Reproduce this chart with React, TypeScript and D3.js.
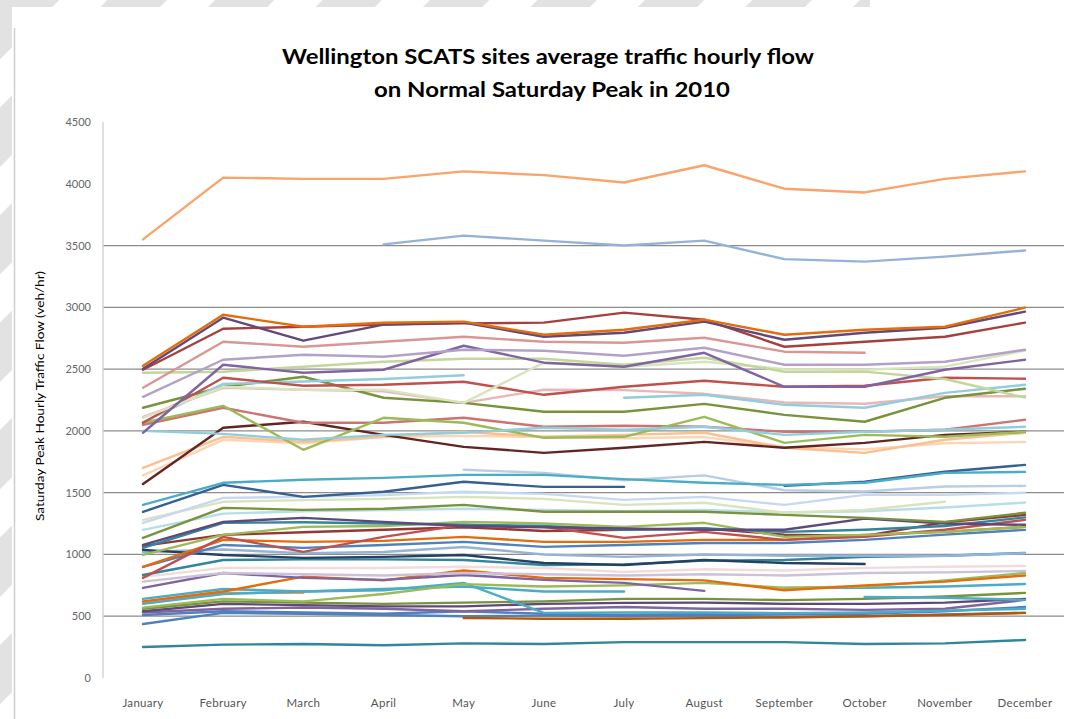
import React from 'react';
import * as d3 from 'd3';

const width = 1077;
const height = 719;

const months = ['January', 'February', 'March', 'April', 'May', 'June', 'July', 'August', 'September', 'October', 'November', 'December'];
const yTicks = [0, 500, 1000, 1500, 2000, 2500, 3000, 3500, 4000, 4500];
const gridTicks = [500, 1000, 1500, 2000, 2500, 3000, 3500];

type V = number | null;

// one array per site (veh/hr)
const site01: V[] = [3550, 4050, 4040, 4040, 4100, 4070, 4010, 4150, 3960, 3930, 4040, 4100];
const site02: V[] = [null, null, null, 3510, 3580, 3540, 3500, 3540, 3390, 3370, 3410, 3460];
const site03: V[] = [2527, 2940, 2843, 2875, 2884, 2778, 2819, 2900, 2778, 2819, 2843, 2997];
const site04: V[] = [2503, 2916, 2730, 2860, 2876, 2762, 2794, 2884, 2738, 2794, 2835, 2965];
const site05: V[] = [2495, 2827, 2843, 2860, 2870, 2876, 2957, 2900, 2681, 2722, 2762, 2876];
const site06: V[] = [2349, 2722, 2681, 2722, 2762, 2722, 2713, 2754, 2641, 2632, null, null];
const site07: V[] = [2276, 2576, 2616, 2600, 2657, 2649, 2608, 2673, 2535, 2535, 2560, 2657];
const site08: V[] = [1985, 2535, 2470, 2495, 2689, 2552, 2519, 2632, 2357, 2357, 2495, 2576];
const site09: V[] = [2470, 2479, 2519, 2560, 2584, 2584, 2535, 2592, 2479, 2480, 2420, 2270];
const site10: V[] = [2106, 2357, 2333, 2333, 2227, 2552, 2519, 2560, 2500, 2495, 2520, 2650];
const site11: V[] = [2066, 2430, 2365, 2373, 2398, 2292, 2357, 2406, 2357, 2365, 2430, 2422];
const site12: V[] = [2070, 2380, 2400, 2420, 2450, null, 2268, 2292, 2211, 2187, 2308, 2373];
const site13: V[] = [2000, 1976, 1928, 1968, 1985, 2025, 2009, 2033, 1968, 1993, 2009, 2033];
const site14: V[] = [2187, 2357, 2438, 2268, 2227, 2155, 2155, 2219, 2130, 2074, 2268, 2341];
const site15: V[] = [2114, 2349, 2333, 2320, 2227, 2333, 2330, 2300, 2230, 2220, 2280, 2280];
const site16: V[] = [2066, 2203, 1847, 2106, 2066, 1944, 1952, 2114, 1903, 1968, 1952, 1993];
const site17: V[] = [2050, 2187, 2066, 2066, 2106, 2033, 2041, 2033, 1993, 1993, 2009, 2090];
const site18: V[] = [1570, 2025, 2074, 1968, 1871, 1822, 1863, 1911, 1863, 1903, 1968, 1993];
const site19: V[] = [1700, 1952, 1911, 1952, 1993, 1952, 1968, 1985, 1863, 1822, 1928, 1985];
const site20: V[] = [1640, 1928, 1900, 1950, 1960, 1950, 1940, 1950, 1870, 1850, 1900, 1910];
const site21: V[] = [1401, 1580, 1604, 1620, 1644, 1644, 1610, 1580, 1563, 1580, 1660, 1668];
const site22: V[] = [1345, 1563, 1466, 1507, 1588, 1547, 1547, null, 1555, 1588, 1669, 1725];
const site23: V[] = [null, null, null, null, 1685, 1660, 1600, 1640, 1520, 1510, 1550, 1555];
const site24: V[] = [1256, 1458, 1466, 1480, 1507, 1490, 1442, 1466, 1401, 1482, 1482, 1499];
const site25: V[] = [1280, 1426, 1440, 1450, 1466, 1450, 1401, 1418, 1337, 1361, 1426, null];
const site26: V[] = [1134, 1377, 1361, 1370, 1401, 1345, 1345, 1345, 1320, 1296, 1264, 1337];
const site27: V[] = [1077, 1264, 1296, 1264, 1230, 1220, 1210, 1200, 1200, 1290, 1250, 1240];
const site28: V[] = [1053, 1256, 1260, 1250, 1240, 1230, 1200, 1210, 1183, 1200, 1230, 1300];
const site29: V[] = [996, 1158, 1223, 1230, 1264, 1250, 1223, 1256, 1142, 1158, 1183, 1223];
const site30: V[] = [810, 1142, 1021, 1142, 1239, 1223, 1134, 1183, 1118, 1142, 1200, 1280];
const site31: V[] = [1069, 1158, 1180, 1200, 1220, 1190, 1200, 1210, 1160, 1150, 1260, 1320];
const site32: V[] = [899, 1118, 1102, 1110, 1142, 1102, 1102, 1118, 1118, 1158, 1183, 1223];
const site33: V[] = [900, 1077, 1053, 1077, 1102, 1061, 1077, 1093, 1093, 1118, 1160, 1199];
const site34: V[] = [1037, 996, 972, 980, 996, 931, 915, 955, 931, 923, null, null];
const site35: V[] = [1020, 1040, 1010, 1020, 1060, 1000, 980, 1000, 990, 990, 990, 1010];
const site36: V[] = [834, 955, 960, 960, 955, 915, 920, 950, 955, 980, 990, 1012];
const site37: V[] = [818, 891, 890, 890, 900, 890, 858, 880, 870, 891, 900, 907];
const site38: V[] = [780, 850, 840, 830, 850, 840, 830, 840, 830, 850, 855, 866];
const site39: V[] = [729, 850, 810, 794, 834, 794, 770, 705, null, null, null, null];
const site40: V[] = [620, 700, 820, 790, 870, 810, 800, 790, 710, 750, 780, 830];
const site41: V[] = [570, 640, 620, 680, 760, 740, 750, 770, 730, 740, 790, 850];
const site42: V[] = [640, 720, 700, 720, 740, 700, 700, null, null, null, null, null];
const site43: V[] = [600, 680, 700, 710, 770, 527, 530, 530, 525, 530, 545, 560];
const site44: V[] = [608, 689, 689, null, null, null, null, null, null, null, null, null];
const site45: V[] = [null, null, null, null, null, null, null, null, null, 656, 650, 632];
const site46: V[] = [null, null, null, null, null, null, null, null, 729, 730, 740, 761];
const site47: V[] = [560, 620, 610, 600, 610, 620, 640, 640, 630, 640, 660, 689];
const site48: V[] = [540, 600, 590, 580, 580, 600, 608, 610, 600, 600, 610, 640];
const site49: V[] = [530, 560, 570, 560, 540, 560, 575, 560, 560, 551, 560, 632];
const site50: V[] = [510, 540, 530, 520, 540, 520, 510, 520, 515, 520, 540, 575];
const site51: V[] = [null, null, null, null, 486, 480, 480, 485, 490, 500, 510, 527];
const site52: V[] = [437, 527, 520, 510, 500, 505, 500, 505, 495, 500, 515, 527];
const site53: V[] = [251, 270, 275, 265, 280, 275, 290, 290, 290, 275, 280, 308];
const site54: V[] = [1199, 1330, 1350, 1360, 1370, 1360, 1350, 1360, 1340, 1350, 1380, 1420];

const siteColors = [
  '#f9a46b', '#95b3d7', '#e46c0a', '#604a7b', '#a5403d', '#d99694', '#b3a2c7', '#8064a2',
  '#c3d69b', '#d7e4bd', '#c0504d', '#93cddd', '#92cddc', '#77933c', '#e6b9b8', '#9bbb59',
  '#cd7371', '#632523', '#fac090', '#fcd5b5', '#4bacc6', '#376092', '#b9cde5', '#c6d9f1',
  '#d7e4bd', '#77933c', '#5f497a', '#31859c', '#9bbb59', '#c0504d', '#953735', '#e46c0a',
  '#4f81bd', '#254061', '#95b3d7', '#31859c', '#f2dcdb', '#ccc1da', '#8064a2', '#e46c0a',
  '#9bbb59', '#4bacc6', '#4bacc6', '#f79646', '#4bacc6', '#4bacc6', '#77933c', '#5f497a',
  '#8064a2', '#4f81bd', '#b65708', '#4f81bd', '#31859c', '#b7dee8',
];

const sites = [
  site01, site02, site03, site04, site05, site06, site07, site08, site09, site10,
  site11, site12, site13, site14, site15, site16, site17, site18, site19, site20,
  site21, site22, site23, site24, site25, site26, site27, site28, site29, site30,
  site31, site32, site33, site34, site35, site36, site37, site38, site39, site40,
  site41, site42, site43, site44, site45, site46, site47, site48, site49, site50,
  site51, site52, site53, site54,
];

export default function App() {
  const x = d3.scalePoint<string>().domain(months).range([143, 1025]);
  const y = d3.scaleLinear().domain([0, 4500]).range([678, 122]);

  const line = d3.line<V>()
    .defined(d => d != null)
    .x((_, i) => x(months[i]) as number)
    .y(d => y(d as number));

  // draw light lines under dark ones roughly like the original stacking
  const order = sites.map((s, i) => i).reverse();

  return (
    <svg width={width} height={height} style={{ position: 'absolute', left: 0, top: 0, display: 'block', background: '#fff' }}>
      <defs>
        <pattern id="stripes" width="76" height="76" patternUnits="userSpaceOnUse" patternTransform="rotate(45)">
          <rect x="0" y="0" width="42" height="76" fill="#e2e2e2" />
        </pattern>
        <clipPath id="topBand">
          <rect x="0" y="0" width="870" height="7" />
        </clipPath>
      </defs>

      {/* slide background */}
      <rect x={0} y={0} width={width} height={7} fill="url(#stripes)" clipPath="url(#topBand)" />
      <rect x={0} y={0} width={12} height={height} fill="url(#stripes)" />
      <line x1={14.5} x2={14.5} y1={28} y2={height} stroke="#cfcfcf" strokeWidth={1.5} />

      {/* title */}
      <g fontFamily="Lato, 'Open Sans', sans-serif" fontWeight="bold" fill="#000" textAnchor="middle">
        <text x={548} y={64} fontSize={21} textLength={532} lengthAdjust="spacingAndGlyphs">
          Wellington SCATS sites average traffic hourly flow
        </text>
        <text x={552} y={97} fontSize={21} textLength={356} lengthAdjust="spacingAndGlyphs">
          on Normal Saturday Peak in 2010
        </text>
      </g>

      {/* grid */}
      {gridTicks.map(t => (
        <line key={t} x1={103} x2={1064} y1={y(t)} y2={y(t)} stroke="#8c8c8c" strokeWidth={1.3} />
      ))}
      <line x1={103} x2={103} y1={y(4500)} y2={y(0)} stroke="#d4d4d4" strokeWidth={1.5} />

      {/* y ticks */}
      <g fontFamily="Lato, 'Open Sans', sans-serif" fontSize={11} fill="#666" textAnchor="end">
        {yTicks.map(t => (
          <text key={t} x={91} y={y(t) + 4}>{t}</text>
        ))}
      </g>

      {/* x labels */}
      <g fontFamily="Lato, 'Open Sans', sans-serif" fontSize={11.5} fill="#555" textAnchor="middle" letterSpacing={0.3}>
        {months.map(m => (
          <text key={m} x={x(m)} y={707}>{m}</text>
        ))}
      </g>

      {/* y axis title */}
      <text
        transform="translate(44,396) rotate(-90)"
        fontFamily="Lato, 'Open Sans', sans-serif"
        fontSize={11.5}
        fill="#000"
        textAnchor="middle"
        textLength={250}
        lengthAdjust="spacingAndGlyphs"
      >
        Saturday Peak Hourly Traffic Flow (veh/hr)
      </text>

      {/* site lines */}
      <g fill="none" strokeWidth={2.4} strokeLinejoin="round" strokeLinecap="round">
        {order.map(i => (
          <path key={i} d={line(sites[i]) || ''} stroke={siteColors[i]} />
        ))}
      </g>
    </svg>
  );
}
